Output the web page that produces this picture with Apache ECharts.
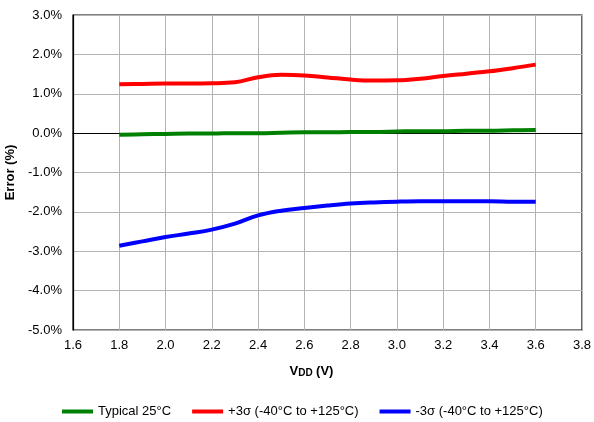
<!DOCTYPE html>
<html>
<head>
<meta charset="utf-8">
<script src="https://cdn.jsdelivr.net/npm/echarts@6/dist/echarts.min.js"></script>
<style>html,body{margin:0;padding:0;background:#fff}#c{width:594px;height:422px}</style>
</head>
<body>
<div id="c"></div>
<script>
var seriesNames = ['Typical 25°C', '+3σ (-40°C to +125°C)', '-3σ (-40°C to +125°C)'];
var vdd = [1.8, 1.9, 2.0, 2.1, 2.2, 2.3, 2.4, 2.5, 2.6, 2.7, 2.8, 2.9, 3.0, 3.1, 3.2, 3.3, 3.4, 3.5, 3.6];
var typical = [-0.04, -0.03, -0.02, -0.01, -0.01, 0.0, 0.0, 0.01, 0.02, 0.02, 0.03, 0.03, 0.04, 0.05, 0.05, 0.06, 0.06, 0.07, 0.08];
var plus3s = [1.24, 1.25, 1.26, 1.26, 1.265, 1.29, 1.42, 1.48, 1.465, 1.415, 1.36, 1.335, 1.34, 1.38, 1.45, 1.51, 1.57, 1.65, 1.74];
var minus3s = [-2.86, -2.75, -2.64, -2.55, -2.45, -2.30, -2.09, -1.97, -1.90, -1.84, -1.79, -1.76, -1.74, -1.73, -1.73, -1.73, -1.73, -1.74, -1.74];
var colors = ['#008000', '#ff0000', '#0000ff'];

function pairs(ys) { return vdd.map(function (x, i) { return [x, ys[i]]; }); }

var chart = echarts.init(document.getElementById('c'));
var font = 'Liberation Sans, Arial, sans-serif';
function mk(i, ys) {
  return {
    name: seriesNames[i], type: 'line', data: pairs(ys), smooth: 0.4,
    showSymbol: false, symbol: 'none',
    lineStyle: { color: colors[i], width: 4 }, itemStyle: { color: colors[i] },
    z: 3 + i
  };
}
var sTyp = mk(0, typical);
sTyp.markLine = {
  silent: true, symbol: ['none', 'none'], label: { show: false },
  lineStyle: { color: '#000', width: 1, type: 'solid' },
  data: [{ yAxis: 0 }], z: 1
};
sTyp.z = 5;
chart.setOption({
  animation: false,
  grid: { left: 73, right: 12, top: 15, bottom: 92, show: true, borderColor: '#000', borderWidth: 1.2, containLabel: false, outerBoundsMode: 'none' },
  xAxis: {
    type: 'value', min: 1.6, max: 3.8, interval: 0.2,
    name: '{a|V}{b|DD} {a|(V)}', nameLocation: 'middle', nameGap: 35,
    nameTextStyle: { padding: [0, 32, 0, 0], rich: { a: { fontFamily: font, fontSize: 13, fontWeight: 'bold', color: '#000' }, b: { fontFamily: font, fontSize: 10, fontWeight: 'bold', color: '#000', verticalAlign: 'bottom', padding: [3, 0, 0, 0] } } },
    axisLine: { show: true, lineStyle: { color: '#000', width: 1.2 } },
    axisTick: { show: false },
    axisLabel: { margin: 9, color: '#000', fontFamily: font, fontSize: 13, formatter: function (v) { return v.toFixed(1); } },
    splitLine: { show: true, lineStyle: { color: '#b3b3b3', width: 1 } }
  },
  yAxis: {
    type: 'value', min: -5, max: 3, interval: 1,
    name: 'Error (%)', nameLocation: 'middle', nameGap: 45, nameRotate: 90,
    nameTextStyle: { fontFamily: font, fontSize: 13, fontWeight: 'bold', color: '#000' },
    axisLine: { show: true, lineStyle: { color: '#000', width: 1.2 } },
    axisTick: { show: false },
    axisLabel: { margin: 11, color: '#000', fontFamily: font, fontSize: 13, formatter: function (v) { return v.toFixed(1) + '%'; } },
    splitLine: { show: true, lineStyle: { color: '#b3b3b3', width: 1 } }
  },
  legend: {
    top: 400, left: 57, itemWidth: 31, itemHeight: 4, itemGap: 21, icon: 'rect',
    textStyle: { fontFamily: font, fontSize: 13, color: '#000' },
    data: seriesNames
  },
  series: [sTyp, mk(1, plus3s), mk(2, minus3s)]
});
</script>
</body>
</html>
